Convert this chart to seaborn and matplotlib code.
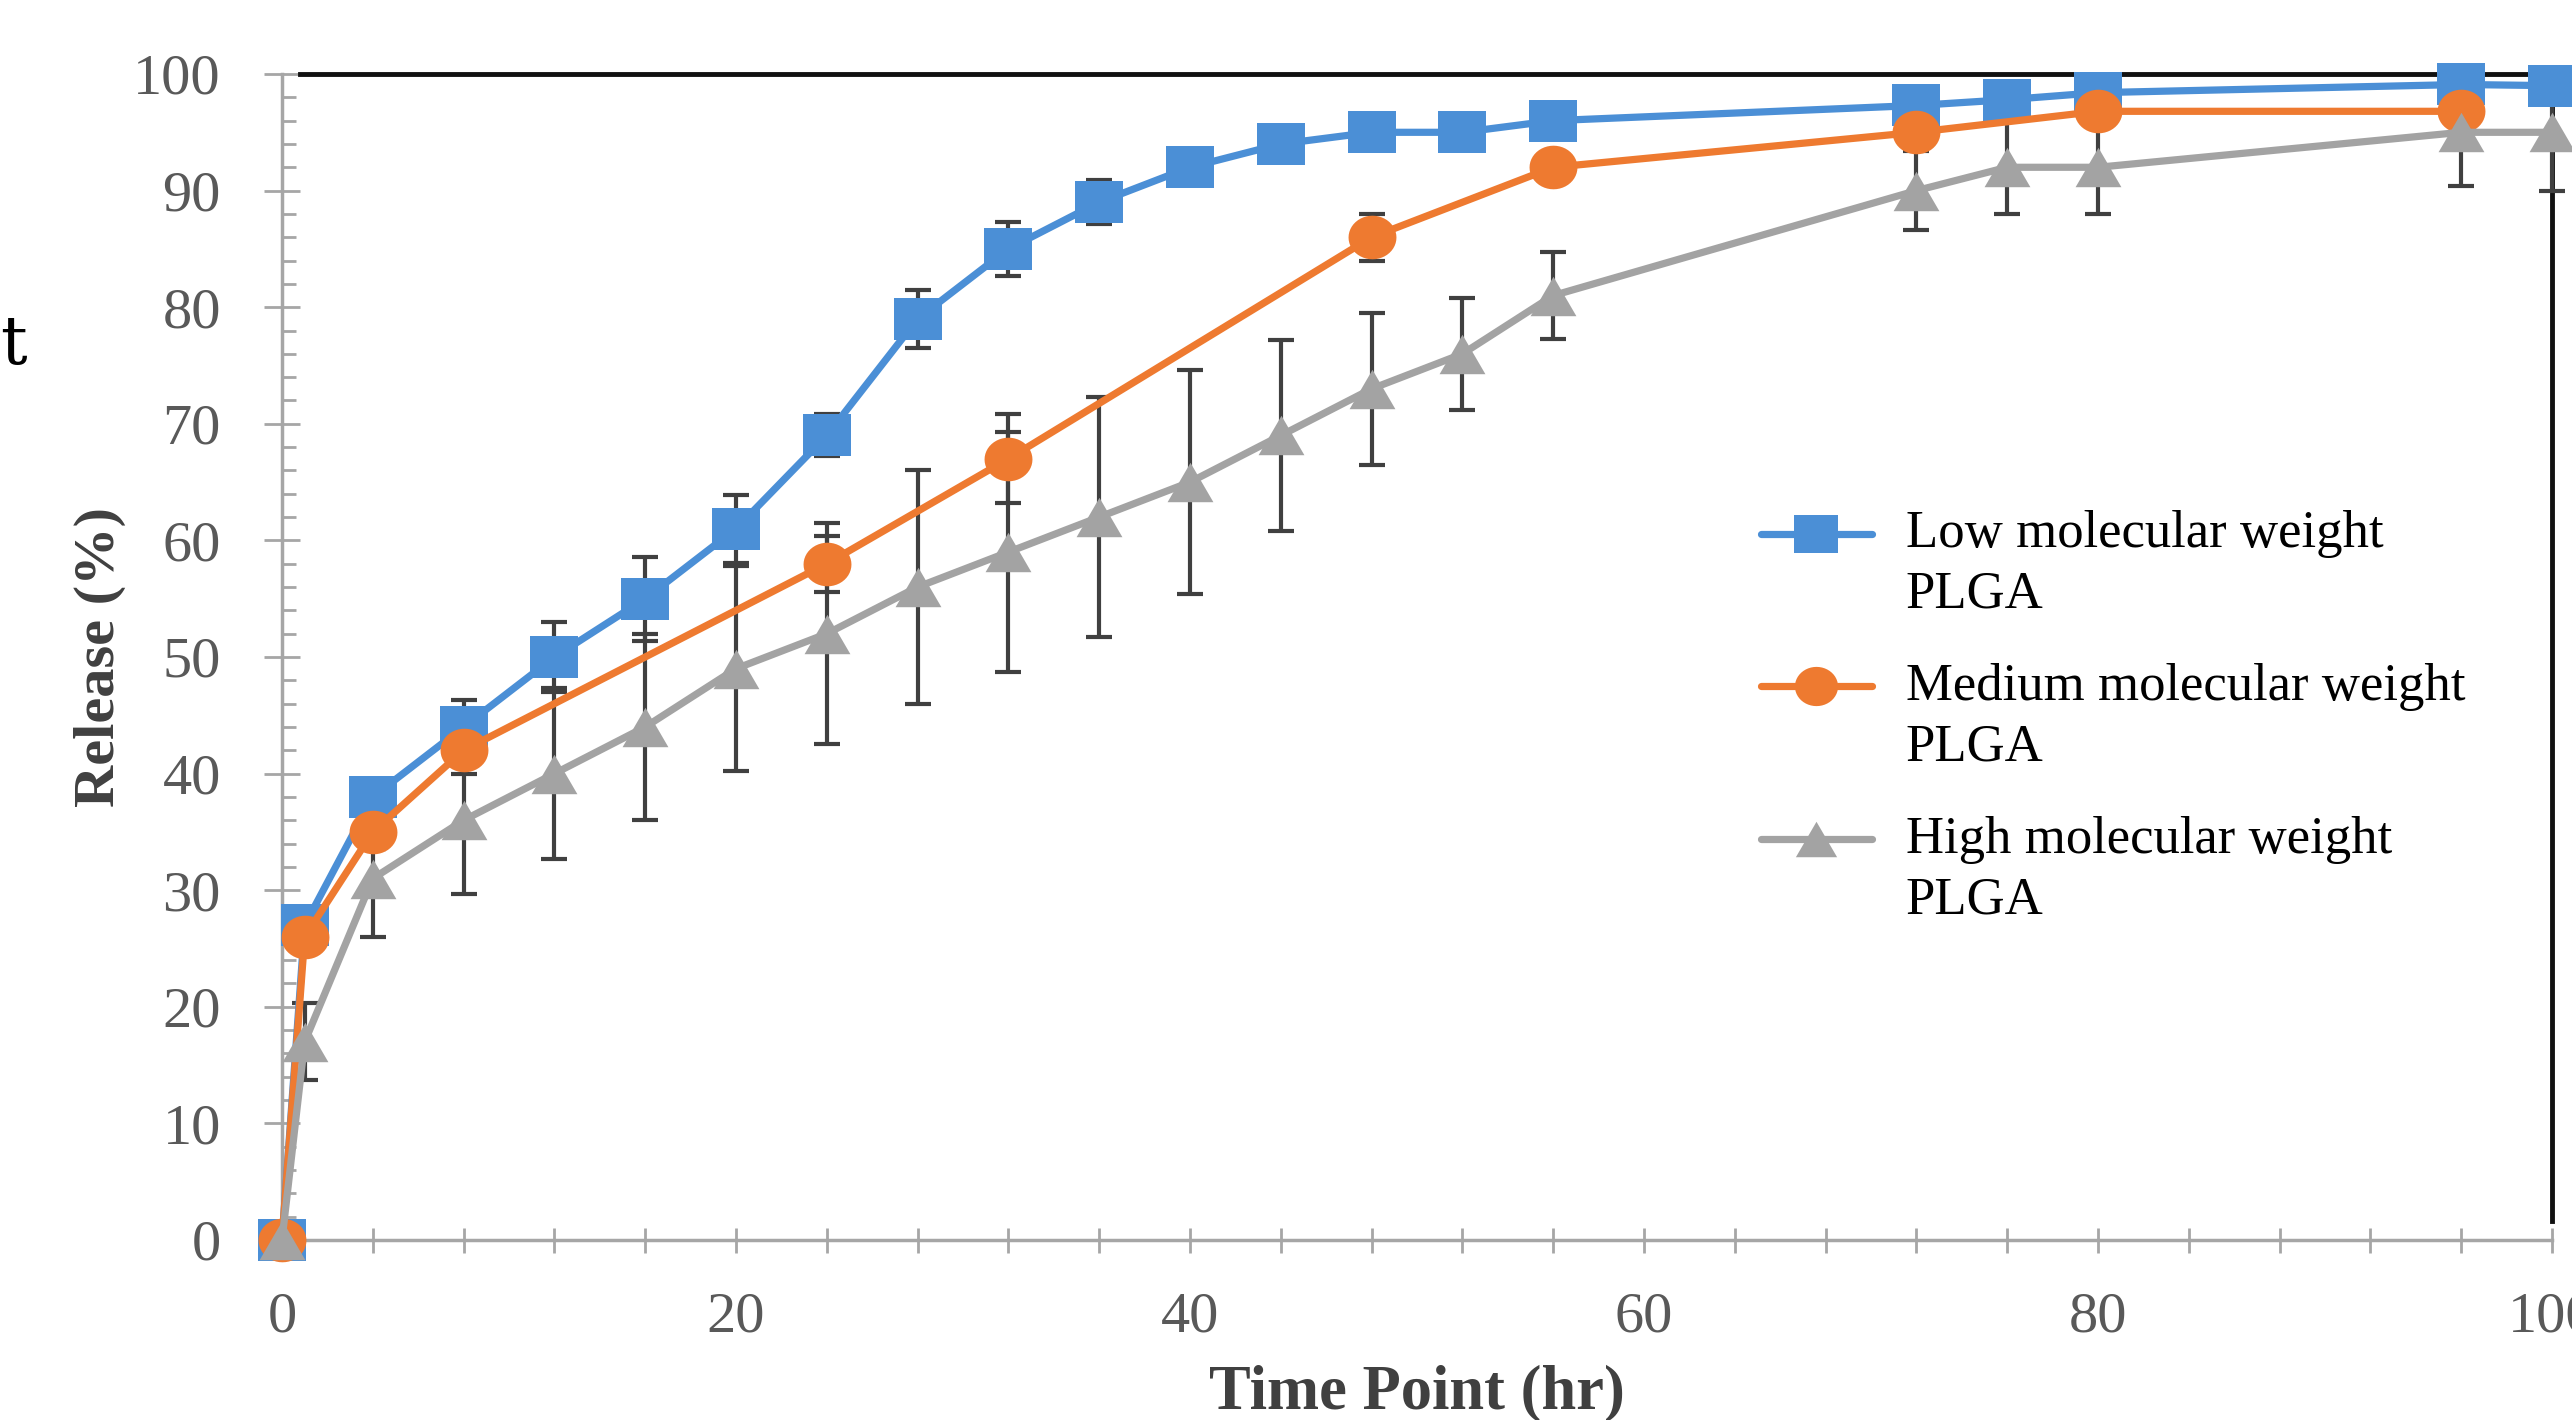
import numpy as np
import pandas as pd
import matplotlib
matplotlib.use("Agg")
import matplotlib.pyplot as plt
import seaborn as sns
from matplotlib.ticker import MultipleLocator, FixedLocator
from matplotlib.font_manager import FontProperties

# ---------------- data ----------------
series_names = ["Low molecular weight\nPLGA",
                "Medium molecular weight\nPLGA",
                "High molecular weight\nPLGA"]

time_low = [0, 1, 4, 8, 12, 16, 20, 24, 28, 32, 36, 40, 44, 48, 52, 56, 72, 76, 80, 96, 100]
release_low = [0, 27, 38, 44, 50, 55, 61, 69, 79, 85, 89, 92, 94, 95, 95, 96, 97.3, 97.8, 98.4, 99.1, 99.0]
err_low = [0, 1, 1, 2.3, 3, 3.6, 2.9, 1.8, 2.5, 2.3, 1.9, 1, 1, 1, 1, 1, 1, 1, 1, 1, 1]

time_med = [0, 1, 4, 8, 24, 32, 48, 56, 72, 80, 96]
release_med = [0, 26, 35, 42, 58, 67, 86, 92, 95, 96.8, 96.8]
err_med = [0, 1, 1.5, 2, 2.4, 3.8, 2, 1, 1, 1, 1]

time_high = [0, 1, 4, 8, 12, 16, 20, 24, 28, 32, 36, 40, 44, 48, 52, 56, 72, 76, 80, 96, 100]
release_high = [0, 17, 31, 36, 40, 44, 49, 52, 56, 59, 62, 65, 69, 73, 76, 81, 90, 92, 92, 95, 95]
err_high = [0, 3.3, 5, 6.3, 7.3, 8, 8.8, 9.5, 10, 10.3, 10.3, 9.6, 8.2, 6.5, 4.8, 3.7, 3.4, 4.0, 4.0, 4.6, 5]

x_ticks = [0, 20, 40, 60, 80, 100]
y_ticks = [0, 10, 20, 30, 40, 50, 60, 70, 80, 90, 100]

# ---------------- style ----------------
colors = ["#4B8FD6", "#EE7A30", "#A3A3A3"]
theta = np.linspace(0, 2 * np.pi, 49)
marker_square = [(-1, -0.85), (1, -0.85), (1, 0.85), (-1, 0.85), (-1, -0.85)]
marker_circle = list(zip(np.cos(theta), 0.91 * np.sin(theta)))
marker_tri = [(0, 0.86), (-1, -0.86), (1, -0.86), (0, 0.86)]
marker_sizes = [35.0, 34.5, 33.0]

df = pd.concat([
    pd.DataFrame({"Time": time_low, "Release": release_low, "Group": series_names[0]}),
    pd.DataFrame({"Time": time_med, "Release": release_med, "Group": series_names[1]}),
    pd.DataFrame({"Time": time_high, "Release": release_high, "Group": series_names[2]}),
], ignore_index=True)

sns.set_style("white")
plt.rcParams["font.family"] = ["Liberation Serif", "DejaVu Serif"]

W, H = 2572, 1420
fig = plt.figure(figsize=(W / 100, H / 100), dpi=100)
ax = fig.add_axes([282 / W, 1 - 1240 / H, (2552 - 282) / W, (1240 - 74) / H])

sns.lineplot(data=df, x="Time", y="Release", hue="Group", style="Group",
             hue_order=series_names, style_order=series_names,
             palette=dict(zip(series_names, colors)),
             markers=dict(zip(series_names, [marker_square, marker_circle, marker_tri])),
             dashes=False, errorbar=None, linewidth=5.2, markeredgewidth=0,
             clip_on=False, legend=False, ax=ax, zorder=3)
series_lines = list(ax.lines)
for ln, ms in zip(series_lines, marker_sizes):
    ln.set_markersize(ms)

for t, r, e in [(time_low, release_low, err_low),
                (time_med, release_med, err_med),
                (time_high, release_high, err_high)]:
    ax.errorbar(t, r, yerr=e, fmt="none", ecolor="#404040", elinewidth=3,
                capsize=9.5, capthick=3, zorder=2.6, clip_on=False)

ax.set_xlim(0, 100)
ax.set_ylim(0, 100)
ax.xaxis.set_major_locator(FixedLocator(x_ticks))
ax.xaxis.set_minor_locator(MultipleLocator(4))
ax.yaxis.set_major_locator(FixedLocator(y_ticks))
ax.yaxis.set_minor_locator(MultipleLocator(2))

axis_gray = "#A6A6A6"
for s in ["left", "bottom"]:
    ax.spines[s].set_color(axis_gray)
    ax.spines[s].set_linewidth(2.5)
for s in ["top", "right"]:
    ax.spines[s].set_color("#111111")
    ax.spines[s].set_linewidth(3.5)
    ax.spines[s].set_visible(True)
ax.spines["right"].set_bounds(1.6, 100)
ax.spines["top"].set_bounds(0.8, 100)

ax.tick_params(axis="x", which="both", direction="inout", length=18, width=2,
               color=axis_gray, pad=28, labelsize=42, labelcolor="#595959",
               bottom=True)
ax.tick_params(axis="y", which="major", direction="inout", length=26, width=2,
               color=axis_gray, pad=31, labelsize=42, labelcolor="#595959",
               left=True)
ax.tick_params(axis="y", which="minor", direction="in", length=10, width=2,
               color=axis_gray, left=True)
for lab in ax.get_xticklabels() + ax.get_yticklabels():
    lab.set_family("Liberation Serif")

ax.set_xlabel("Time Point (hr)", fontsize=45, fontweight="bold",
              family="Liberation Serif", color="#404040", labelpad=15)
ax.set_ylabel("Release (%)", fontsize=42, fontweight="bold",
              family="Liberation Serif", color="#404040", labelpad=5)

leg_fs = 38
leg_linespacing = 1.35
leg = ax.legend(series_lines, series_names, loc="upper left",
                bbox_to_anchor=(1761 / W, 1 - 510 / H), bbox_transform=fig.transFigure,
                frameon=False, borderpad=0, borderaxespad=0,
                handlelength=2.1, handletextpad=0.64, labelspacing=0.83,
                markerscale=0.9,
                prop=FontProperties(family="Liberation Serif", size=leg_fs))
for t in leg.get_texts():
    t.set_linespacing(leg_linespacing)
    t.set_color("black")
shift = 22.2
for h in leg.legend_handles:
    h.set_ydata(np.asarray(h.get_ydata()) + shift)

fig.text(0.0, 1 - 364 / H, "t", fontsize=48, family="DejaVu Serif",
         color="black", ha="left", va="baseline")

fig.savefig("out.png", dpi=100, facecolor="white")
